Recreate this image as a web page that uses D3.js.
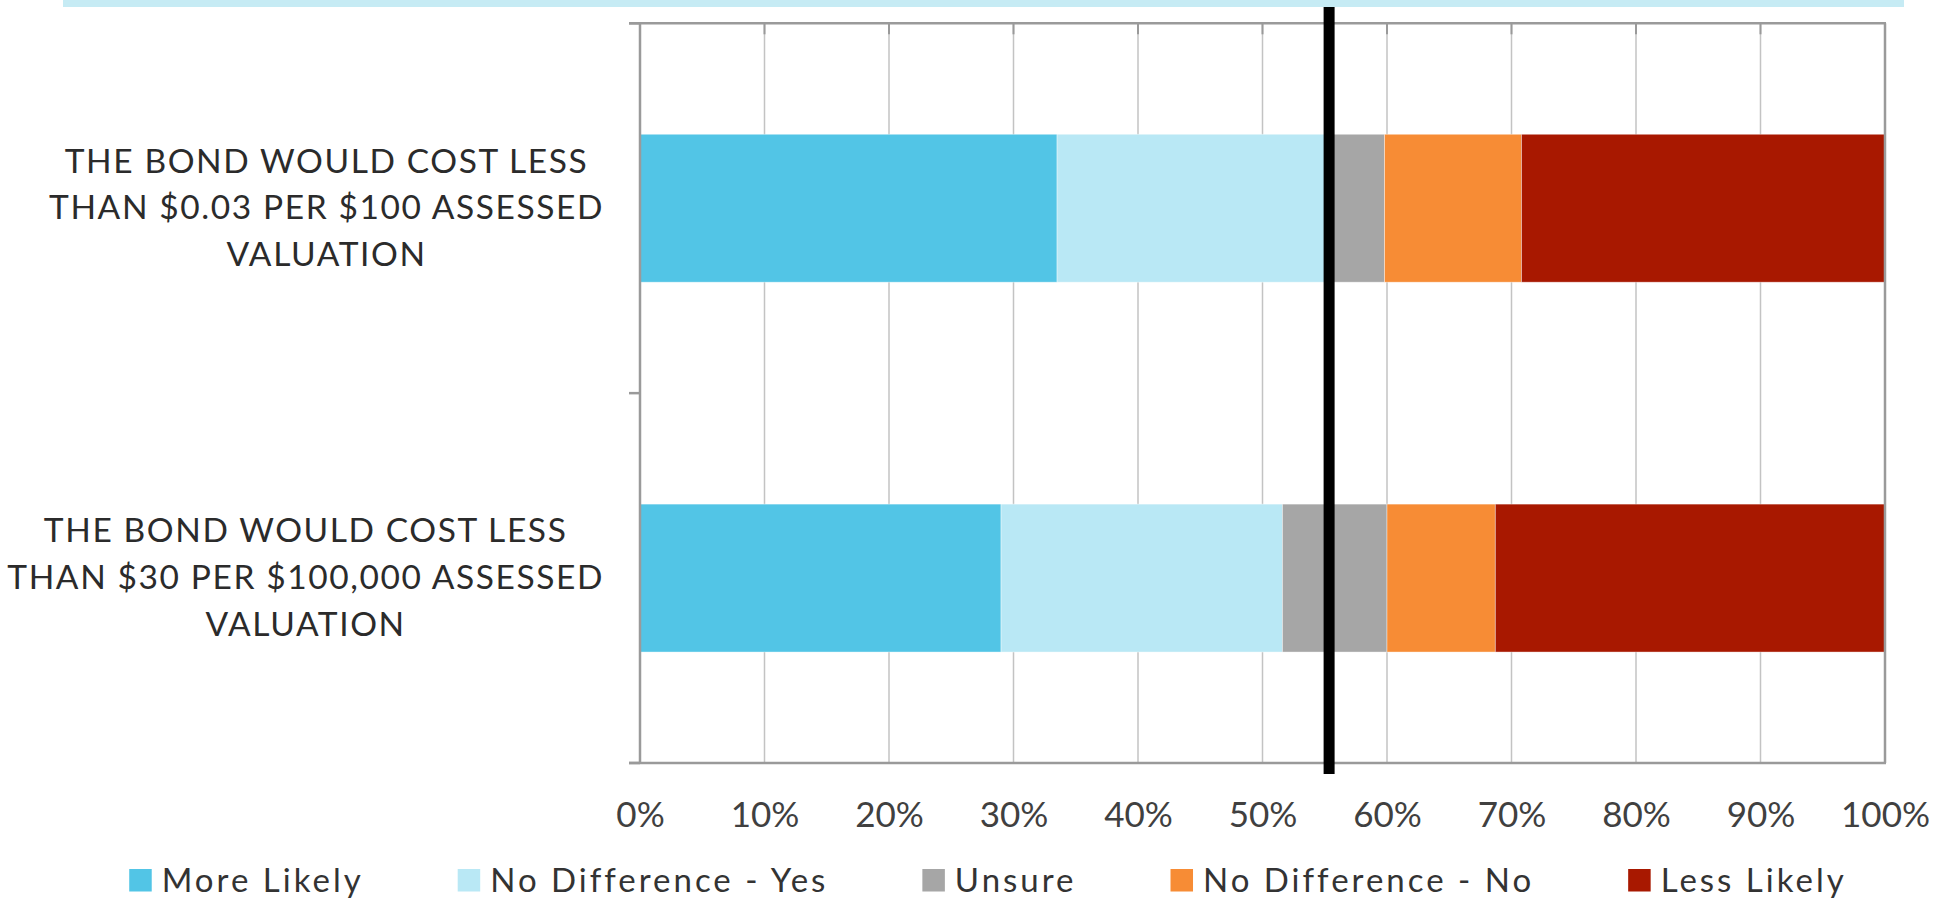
<!DOCTYPE html>
<html>
<head>
<meta charset="utf-8">
<script src="https://cdn.jsdelivr.net/npm/d3@7"></script>
<style>
  html, body { margin: 0; padding: 0; background: #ffffff; }
  svg { display: block; }
  text { font-family: Lato, "Open Sans", sans-serif; }
</style>
</head>
<body>
<svg id="chart" width="1952" height="902"></svg>
<script>
// ---------------- data ----------------
const categories = [
  ["THE BOND WOULD COST LESS", "THAN $0.03 PER $100 ASSESSED", "VALUATION"],
  ["THE BOND WOULD COST LESS", "THAN $30 PER $100,000 ASSESSED", "VALUATION"]
];
const seriesNames = ["More Likely", "No Difference - Yes", "Unsure", "No Difference - No", "Less Likely"];
const moreLikely   = [33.5, 29.0];
const noDiffYes    = [21.8, 22.6];
const unsure       = [4.5, 8.4];
const noDiffNo     = [11.0, 8.7];
const lessLikely   = [29.2, 31.3];
const xTicks = [0, 10, 20, 30, 40, 50, 60, 70, 80, 90, 100];
const referenceLine = 55.35;
const seriesColors = ["#52c5e6", "#b9e8f5", "#a6a6a6", "#f78c35", "#a81800"];

// ---------------- layout ----------------
const plot = { left: 640, right: 1885, top: 23.3, bottom: 763 };
const svg = d3.select("#chart");

// header band
svg.append("rect").attr("x", 63).attr("y", 0).attr("width", 1841).attr("height", 7).attr("fill", "#c6ebf4");

const x = d3.scaleLinear().domain([0, 100]).range([plot.left, plot.right]);
const y = d3.scaleBand().domain(d3.range(categories.length)).range([plot.top, plot.bottom]).paddingInner(0.6).paddingOuter(0.3);

// gridlines
svg.append("g").selectAll("line").data(xTicks.filter(t => t > 0 && t < 100)).join("line")
  .attr("x1", d => x(d)).attr("x2", d => x(d))
  .attr("y1", plot.top).attr("y2", plot.bottom)
  .attr("stroke", "#c3c3c3").attr("stroke-width", 1.5);

// stacked bars
const table = categories.map((c, i) => ({
  idx: i,
  "More Likely": moreLikely[i],
  "No Difference - Yes": noDiffYes[i],
  "Unsure": unsure[i],
  "No Difference - No": noDiffNo[i],
  "Less Likely": lessLikely[i]
}));
const stack = d3.stack().keys(seriesNames)(table);
const color = d3.scaleOrdinal().domain(seriesNames).range(seriesColors);

svg.append("g").selectAll("g").data(stack).join("g")
  .attr("fill", d => color(d.key))
  .selectAll("rect").data(d => d).join("rect")
  .attr("x", d => x(d[0]))
  .attr("width", d => x(d[1]) - x(d[0]))
  .attr("y", d => y(d.data.idx))
  .attr("height", y.bandwidth())
  .attr("stroke", "#ffffff").attr("stroke-opacity", 0.5).attr("stroke-width", 0.8);

// frame: top / right (secondary axes), left and bottom
const axisColor = "#9a9a9a";
svg.append("line").attr("x1", plot.left - 11).attr("x2", plot.right + 1).attr("y1", plot.top).attr("y2", plot.top)
  .attr("stroke", axisColor).attr("stroke-width", 2.5);
svg.append("g").selectAll("line").data(xTicks).join("line")
  .attr("x1", d => x(d)).attr("x2", d => x(d)).attr("y1", plot.top).attr("y2", plot.top + 11)
  .attr("stroke", axisColor).attr("stroke-width", 2);
svg.append("line").attr("x1", plot.right).attr("x2", plot.right).attr("y1", plot.top).attr("y2", plot.bottom)
  .attr("stroke", axisColor).attr("stroke-width", 2.5);
const xAxis = d3.axisBottom(x).tickValues(xTicks).tickFormat(d => d + "%").tickSize(0).tickPadding(0);
const gx = svg.append("g").attr("transform", `translate(0,${plot.bottom})`).call(xAxis);
gx.select(".domain").remove();
gx.selectAll("text").attr("dy", null).attr("y", 63.7)
  .attr("font-size", 35).attr("fill", "#404040").style("font-family", "Lato");
svg.append("line").attr("x1", plot.left - 11).attr("x2", plot.right + 1).attr("y1", plot.bottom).attr("y2", plot.bottom)
  .attr("stroke", axisColor).attr("stroke-width", 2.5);
svg.append("line").attr("x1", plot.left).attr("x2", plot.left).attr("y1", plot.top).attr("y2", plot.bottom)
  .attr("stroke", axisColor).attr("stroke-width", 2.5);
const boundaries = [plot.top, (plot.top + plot.bottom) / 2, plot.bottom];
svg.append("g").selectAll("line").data(boundaries).join("line")
  .attr("x1", plot.left - 11).attr("x2", plot.left).attr("y1", d => d).attr("y2", d => d)
  .attr("stroke", axisColor).attr("stroke-width", 2.5);

// category labels: block right-aligned at labelRight, lines centred within block
const lineH = 46.7, labelRight = 604;
const labelG = svg.append("g");
categories.forEach((lines, i) => {
  const cy = y(i) + y.bandwidth() / 2;
  const t = labelG.append("text").attr("text-anchor", "middle")
    .attr("font-size", 33.5).attr("fill", "#2b2b2b").style("letter-spacing", "1.6px");
  const spans = lines.map((ln, j) => t.append("tspan").attr("y", cy + 11 + (j - 1) * lineH).text(ln));
  const maxW = d3.max(spans, s => s.node().getComputedTextLength());
  spans.forEach(s => s.attr("x", labelRight - maxW / 2));
});

// reference line
svg.append("line").attr("x1", x(referenceLine)).attr("x2", x(referenceLine))
  .attr("y1", 7).attr("y2", 774).attr("stroke", "#000").attr("stroke-width", 11);

// legend
const legend = svg.append("g");
const sw = 22.5, gapText = 10, gapItem = 94;
let cursor = 0;
seriesNames.forEach((name, i) => {
  const g = legend.append("g");
  g.append("rect").attr("x", 0).attr("y", 869).attr("width", sw).attr("height", sw).attr("fill", seriesColors[i]);
  const tx = g.append("text").attr("x", sw + gapText).attr("y", 891.5)
    .attr("font-size", 33).attr("fill", "#333").style("letter-spacing", "3px").text(name);
  const w = sw + gapText + tx.node().getComputedTextLength();
  g.attr("transform", `translate(${cursor},0)`);
  cursor += w + gapItem;
});
const totalW = cursor - gapItem;
legend.attr("transform", `translate(${988 - totalW / 2},0)`);
</script>
</body>
</html>
